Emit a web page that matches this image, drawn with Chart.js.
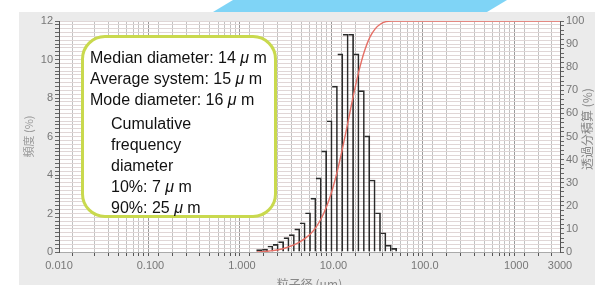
<!DOCTYPE html>
<html>
<head>
<meta charset="utf-8">
<script src="https://cdn.jsdelivr.net/npm/chart.js@4.4.0/dist/chart.umd.min.js"></script>
<style>
  body { margin: 0; width: 595px; height: 285px; overflow: hidden; background: #fff; position: relative; }
  #panel { position: absolute; left: 19px; top: 12px; width: 576px; height: 273px; background: #ebebeb; }
  #banner { position: absolute; left: 213px; top: 0; width: 294px; height: 12px; background: #7fd4f6;
            clip-path: polygon(20px 0, 294px 0, 274px 12px, 0 12px); }
  #myChart { position: absolute; left: 0; top: 0; }
  #note { position: absolute; left: 81px; top: 35px; width: 184px; height: 168px; padding: 9px 0 0 6px;
          border: 3px solid #c9d94e; border-radius: 24px; background: #fff;
          font-family: "Liberation Sans", Arial, sans-serif; font-size: 16px; color: #111; }
  #note div { line-height: 21px; white-space: nowrap; }
  #note .ind { padding-left: 21px; }
  #note .gap { margin-top: 3px; }
  #note i { font-style: italic; }
</style>
</head>
<body>
<div id="panel"></div>
<div id="banner"></div>
<canvas id="myChart" width="595" height="285"></canvas>
<div id="note">
  <div>Median diameter: 14 <i>μ</i> m</div>
  <div>Average system: 15 <i>μ</i> m</div>
  <div>Mode diameter: 16 <i>μ</i> m</div>
  <div class="ind gap">Cumulative</div>
  <div class="ind">frequency</div>
  <div class="ind">diameter</div>
  <div class="ind">10%: 7 <i>μ</i> m</div>
  <div class="ind">90%: 25 <i>μ</i> m</div>
</div>
<script>
// particle size classes (um, bin centres) and frequency (%)
const diameters = [1.55, 1.78, 2.04, 2.33, 2.67, 3.06, 3.50, 4.01, 4.59, 5.26, 6.02, 6.89, 7.89,
                   9.04, 10.35, 11.85, 13.57, 15.54, 17.80, 20.39, 23.35, 26.73, 30.61, 35.06, 40.14, 45.97];
const frequency = [0.12, 0.15, 0.31, 0.40, 0.54, 0.75, 0.90, 1.20, 1.52, 2.04, 2.80, 3.85, 5.25,
                   6.82, 8.62, 10.29, 11.31, 11.31, 10.29, 8.38, 6.03, 3.74, 2.04, 1.00, 0.36, 0.19];

// cumulative passing curve (red)
const cumSizes = [1.45, 1.66, 1.90, 2.18, 2.49, 2.86, 3.27, 3.75, 4.29, 4.91, 5.63, 6.44, 7.38, 8.45,
                  9.67, 11.08, 12.69, 14.53, 16.63, 19.05, 21.82, 24.98, 28.61, 32.76, 37.52, 42.96, 49.2, 3000];
const cumPassing = [0, 0.1, 0.3, 0.6, 1.0, 1.5, 2.3, 3.2, 4.4, 5.9, 7.9, 10.7, 14.6, 19.8,
                    26.6, 35.3, 45.6, 56.9, 68.2, 78.5, 86.9, 92.9, 96.6, 98.7, 99.7, 100, 100, 100];

const xTickValues = [0.01, 0.1, 1, 10, 100, 1000, 3000];
const xTickLabels = ['0.010', '0.100', '1.000', '10.00', '100.0', '1000', '3000'];

const tickFont = { family: 'Liberation Sans', size: 11 };

const plotBg = {
  id: 'plotBg',
  beforeDraw(chart) {
    const a = chart.chartArea, c = chart.ctx;
    c.save();
    c.fillStyle = '#ffffff';
    c.fillRect(a.left, a.top, a.right - a.left, a.bottom - a.top);
    c.restore();
  },
  afterDraw(chart) {
    const c = chart.ctx;
    c.save();
    c.translate(587, 129);
    c.rotate(-Math.PI / 2);
    c.font = '12px "Noto Sans CJK JP"';
    c.fillStyle = '#888';
    c.textAlign = 'center';
    c.textBaseline = 'middle';
    c.fillText('透過分積算 (%)', 0, 0);
    c.restore();
  }
};

const ctx = document.getElementById('myChart');
const myChart = new Chart(ctx, {
  type: 'bar',
  data: {
    datasets: [{
      type: 'line',
      data: cumSizes.map((d, i) => ({ x: d, y: cumPassing[i] })),
      yAxisID: 'y1',
      borderColor: '#e56f66',
      borderWidth: 1.4,
      pointRadius: 0,
      cubicInterpolationMode: 'monotone'
    }, {
      data: diameters.map((d, i) => ({ x: d, y: frequency[i] })),
      yAxisID: 'y',
      backgroundColor: 'rgba(255,255,255,0)',
      borderColor: '#2a2a2a',
      borderWidth: c => ({ top: 1, right: 1, bottom: 0, left: c.dataIndex === 0 ? 1 : 0 }),
      barThickness: 'flex',
      barPercentage: 1,
      categoryPercentage: 1
    }]
  },
  options: {
    responsive: false,
    animation: false,
    devicePixelRatio: 1,
    layout: { padding: { top: 21, left: 0, right: 0, bottom: 0 } },
    plugins: { legend: { display: false }, tooltip: { enabled: false } },
    scales: {
      x: {
        type: 'logarithmic',
        min: 0.01,
        max: 3000,
        afterFit: s => { s.height = 33; },
        border: { color: '#aaa' },
        grid: {
          color: c => xTickValues.slice(0, 6).includes(c.tick && c.tick.value) ? '#9a9a9a' : '#c2c2c2',
          tickLength: 4,
          tickColor: '#555'
        },
        ticks: {
          autoSkip: false,
          maxRotation: 0,
          padding: 3,
          color: '#777',
          font: tickFont,
          callback: v => {
            const k = xTickValues.findIndex(t => Math.abs(t - v) < t * 1e-6);
            return k >= 0 ? xTickLabels[k] : '';
          }
        },
        title: {
          display: true,
          text: '粒子径 (μm)',
          color: '#888',
          font: { family: 'Noto Sans CJK JP', size: 12 },
          padding: { top: 0, bottom: -7 }
        }
      },
      y: {
        position: 'left',
        min: 0,
        max: 12,
        afterFit: s => { s.width = 59; },
        border: { color: '#555' },
        grid: { color: '#e0d6d6', tickLength: 4, tickColor: '#666' },
        ticks: {
          stepSize: 0.2,
          autoSkip: false,
          padding: 2,
          color: '#777',
          font: tickFont,
          callback: v => {
            const r = Math.round(v);
            return Math.abs(v - r) < 1e-6 && r % 2 === 0 ? String(r) : '';
          }
        },
        title: {
          display: true,
          text: '頻度 (%)',
          color: '#999',
          font: { family: 'Noto Sans CJK JP', size: 11 },
          padding: { top: 22, bottom: 0 }
        }
      },
      y1: {
        position: 'right',
        min: 0,
        max: 100,
        afterFit: s => { s.width = 35; },
        border: { color: '#555' },
        grid: { drawOnChartArea: false, tickLength: 4, tickColor: '#666' },
        ticks: {
          stepSize: 2,
          autoSkip: false,
          padding: 2,
          color: '#777',
          font: tickFont,
          callback: v => (Math.round(v) % 10 === 0 ? String(Math.round(v)) : '')
        }
      }
    }
  },
  plugins: [plotBg]
});
</script>
</body>
</html>
